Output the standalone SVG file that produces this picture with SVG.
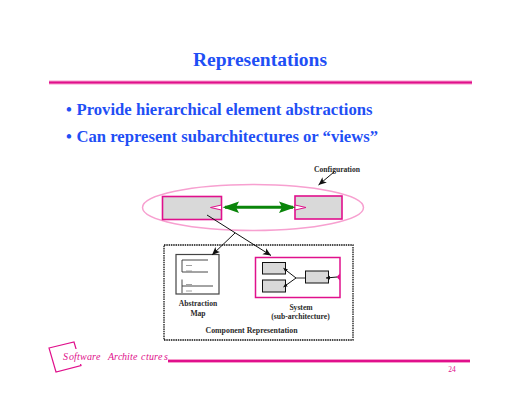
<svg xmlns="http://www.w3.org/2000/svg" width="520" height="402" viewBox="0 0 520 402">
<style>
.h{font-family:"Liberation Serif","Times New Roman",serif;font-weight:bold;fill:#1f4ff5}
.l{font-family:"Liberation Serif","Times New Roman",serif;font-weight:bold;font-size:7.6px;fill:#2a2a2a;text-anchor:middle}
.box{fill:#d9d9d9;stroke:#e0108c;stroke-width:1.600}
.sub{fill:#d9d9d9;stroke:#111;stroke-width:1}
.c{stroke:#111;stroke-width:1;fill:none}
.m{stroke:#333;stroke-width:.9;fill:none}
.tiny{stroke:#888;stroke-width:.8;fill:none}
.port{fill:#fff;stroke:#e0108c;stroke-width:1}
.rule{fill:#e0108c}
.glow{fill:#f79ccc}
.foot{font-family:"Liberation Serif",serif;font-style:italic;font-size:10px;fill:#e0108c}
</style>
<defs>
<marker id="a" markerWidth="9" markerHeight="8" refX="8" refY="3.500" orient="auto" markerUnits="userSpaceOnUse"><path d="M0 0L8 3.500L0 7L2 3.500Z" fill="#111"/></marker>
<marker id="s" markerWidth="5" markerHeight="5" refX="4" refY="2" orient="auto" markerUnits="userSpaceOnUse"><path d="M0 0L4 2L0 4Z" fill="#111"/></marker>
</defs>
<g id="title"><text class="h" x="260" y="66" font-size="19.500" text-anchor="middle">Representations</text>
<rect class="glow" x="49" y="80.500" width="423" height="4"/><rect class="rule" x="49" y="81.500" width="423" height="2"/></g>
<g id="bullets">
<text class="h" x="66" y="114.500" font-size="16.500">•</text><text class="h" x="76.500" y="114.500" font-size="16.500" textLength="296" lengthAdjust="spacingAndGlyphs">Provide hierarchical element abstractions</text>
<text class="h" x="66" y="141.500" font-size="16.500">•</text><text class="h" x="76.500" y="141.500" font-size="16.500" textLength="301.500" lengthAdjust="spacingAndGlyphs">Can represent subarchitectures or “views”</text>
</g>
<g id="configuration">
<ellipse cx="253" cy="207.500" rx="110.500" ry="23" fill="none" stroke="#f7a0d0" stroke-width="1.500"/>
<text class="l" x="337" y="172">Configuration</text>
</g>
<g id="component-left"><rect class="box" x="162.500" y="196.500" width="59" height="23"/><path class="port" d="M221.500 205L210.500 207.500L221.500 210Z"/></g>
<g id="component-right"><rect class="box" x="295" y="196" width="47" height="23"/><path class="port" d="M295 205L306 207.500L295 210Z"/></g>
<g id="representation"><rect x="164" y="245" width="189" height="95" fill="none" stroke="#111" stroke-width="1.300" stroke-dasharray="1.500 .8"/>
<text class="l" x="251.500" y="333" textLength="92" lengthAdjust="spacingAndGlyphs">Component Representation</text></g>
<g id="abstraction-map"><rect x="176" y="254.500" width="43" height="39.500" fill="#fff" stroke="#444" stroke-width="1.200"/>
<path class="m" d="M182 260V272M182 260H208M182 272H208M182 279.500V293M182 286H213"/>
<path class="tiny" d="M186 265.500H192M186 271H192M186 284.500H192M186 291H192"/>
<text class="l" x="198" y="306">Abstraction</text><text class="l" x="198" y="315.500">Map</text></g>
<g id="system"><rect x="255.500" y="257.500" width="84.500" height="40" fill="#fff" stroke="#e0108c" stroke-width="1.500"/>
<rect class="sub" x="262.500" y="262.500" width="23" height="11.500"/><rect class="sub" x="262.500" y="280" width="23" height="12"/><rect class="sub" x="305.500" y="271" width="23" height="12"/>
<path d="M340 273.500L336.500 277L340 280.500Z" fill="#e0108c"/>
<text class="l" x="301" y="309.500">System</text><text class="l" x="300.500" y="318.500">(sub-architecture)</text></g>
<g id="connectors">
<path d="M225 207.300H293" stroke="#0a850a" stroke-width="3" fill="none"/>
<path d="M222.500 207.300L239 201.500L236 207.300L239 213ZM295.500 207.300L279 201.500L282 207.300L279 213Z" fill="#0a850a"/>
<path class="c" d="M334 172L318.500 185" marker-end="url(#a)"/>
<path class="c" d="M207 215L271 255.500" marker-end="url(#a)"/>
<path class="c" d="M235 233L212 255" marker-end="url(#a)"/>
<path class="c" d="M296 278L283.500 268.300" marker-end="url(#s)"/>
<path class="c" d="M296 278L283.500 287" marker-end="url(#s)"/>
<path d="M296 278H305" stroke="#777" stroke-width="1.500" fill="none"/>
<path class="c" d="M337 277L326 278" marker-end="url(#s)"/>
</g>
<g id="footer">
<path d="M49 348L74 342L81 365.500L56 372Z" fill="none" stroke="#e0108c" stroke-width="1.200"/>
<rect x="60" y="349" width="107.500" height="15" fill="#fff"/>
<text class="foot" x="63 69 74 77 80 87 92 96 108 114 118 122 127 130 133 141 146 149 154 158 164" y="360">SoftwareArchitectures</text>
<rect class="glow" x="168" y="359" width="302" height="4"/><rect class="rule" x="168" y="360" width="302" height="2"/>
<text x="452" y="372" font-family="Liberation Serif,serif" font-size="7.500" fill="#e0108c" text-anchor="middle">24</text>
</g>
</svg>
